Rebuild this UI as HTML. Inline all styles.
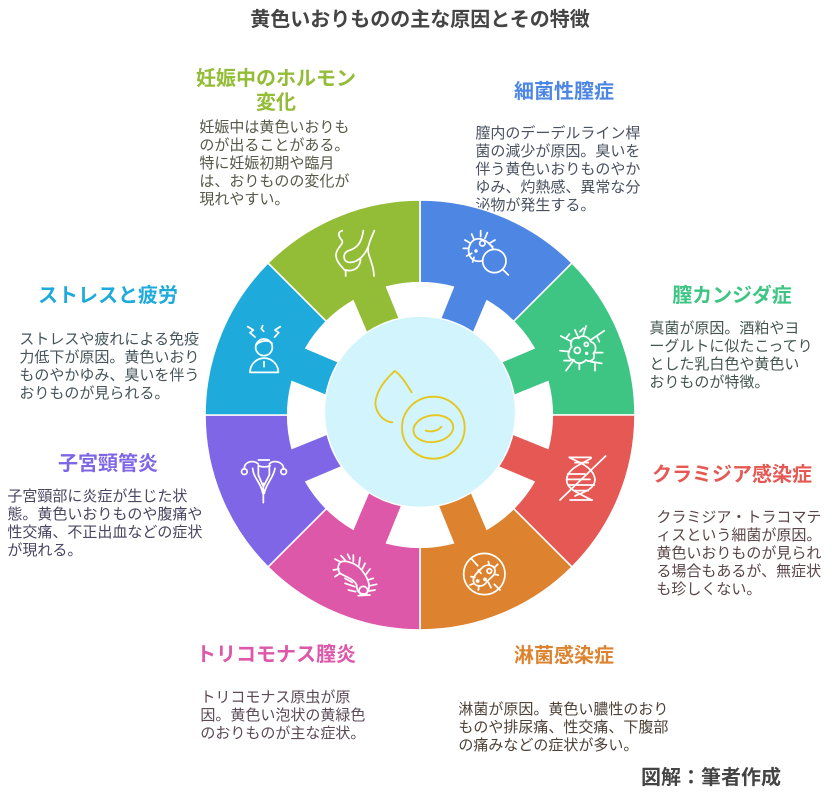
<!DOCTYPE html>
<html lang="ja"><head><meta charset="utf-8"><title>黄色いおりものの主な原因とその特徴</title>
<style>
html,body{margin:0;padding:0;background:#fff}
#p{position:relative;width:840px;height:798px;overflow:hidden;background:#fff;font-family:"Liberation Sans","Noto Sans CJK JP",sans-serif}
#p div{position:absolute;white-space:nowrap}
.h{font-size:20px;font-weight:700;line-height:24px;text-align:center;width:240px}
.b{font-size:15px;line-height:18.1px;margin-left:-.6px}
svg{position:absolute;left:0;top:0}
</style></head><body><div id="p">
<div style="left:170px;top:8px;width:500px;text-align:center;font-size:20px;line-height:24px;font-weight:700;color:#444">黄色いおりものの主な原因とその特徴</div>
<div class="h" style="left:156px;top:67px;color:#93BC37">妊娠中のホルモン<br>変化</div>
<div class="b" style="left:200px;top:119px;color:#565848">妊娠中は黄色いおりも<br>のが出ることがある。<br>特に妊娠初期や臨月<br>は、おりものの変化が<br>現れやすい。</div>
<div class="h" style="left:444px;top:80px;color:#4E86E4">細菌性膣症</div>
<div class="b" style="left:476px;top:125px;color:#4a5260">膣内のデーデルライン桿<br>菌の減少が原因。臭いを<br>伴う黄色いおりものやか<br>ゆみ、灼熱感、異常な分<br>泌物が発生する。</div>
<div class="h" style="left:612px;top:284px;color:#3EC583">膣カンジダ症</div>
<div class="b" style="left:650px;top:320px;color:#445550">真菌が原因。酒粕やヨ<br>ーグルトに似たこってり<br>とした乳白色や黄色い<br>おりものが特徴。</div>
<div class="h" style="left:612px;top:463px;color:#E55853">クラミジア感染症</div>
<div class="b" style="left:657px;top:509px;color:#5a4646">クラミジア・トラコマテ<br>ィスという細菌が原因。<br>黄色いおりものが見られ<br>る場合もあるが、無症状<br>も珍しくない。</div>
<div class="h" style="left:444px;top:644px;color:#DD832F">淋菌感染症</div>
<div class="b" style="left:459px;top:701px;color:#4d4238">淋菌が原因。黄色い膿性のおり<br>ものや排尿痛、性交痛、下腹部<br>の痛みなどの症状が多い。</div>
<div class="h" style="left:156px;top:643px;color:#DD58A8">トリコモナス膣炎</div>
<div class="b" style="left:201px;top:689px;color:#5a4a56">トリコモナス原虫が原<br>因。黄色い泡状の黄緑色<br>のおりものが主な症状。</div>
<div class="h" style="left:-12px;top:452px;color:#7E66E6">子宮頸管炎</div>
<div class="b" style="left:8px;top:488px;color:#4a4560">子宮頸部に炎症が生じた状<br>態。黄色いおりものや腹痛や<br>性交痛、不正出血などの症状<br>が現れる。</div>
<div class="h" style="left:-12px;top:284px;color:#1EABDB">ストレスと疲労</div>
<div class="b" style="left:20px;top:331px;color:#46545a">ストレスや疲れによる免疫<br>力低下が原因。黄色いおり<br>ものやかゆみ、臭いを伴う<br>おりものが見られる。</div>
<div style="left:641px;top:766px;font-size:20px;line-height:24px;font-weight:700;color:#444">図解：筆者作成</div>

<svg width="840" height="798" viewBox="0 0 840 798">
<defs>
<path id="s" d="M0,0L0,-215A215,215 0 0 1 152.03,-152.03Z" stroke="#fff" stroke-width="1.6"/>
<path id="n" d="M-34.4,-128.5A133,133 0 0 1 34.4,-128.5L18.4,-89L-18.4,-89Z" fill="#fff"/>
</defs>
<g transform="translate(420,415)">
<use href="#s" fill="#4E86E4"/>
<use href="#s" fill="#3EC583" transform="rotate(45)"/>
<use href="#s" fill="#E55853" transform="rotate(90)"/>
<use href="#s" fill="#DD832F" transform="rotate(135)"/>
<use href="#s" fill="#DD58A8" transform="rotate(180)"/>
<use href="#s" fill="#7E66E6" transform="rotate(225)"/>
<use href="#s" fill="#1EABDB" transform="rotate(270)"/>
<use href="#s" fill="#93BC37" transform="rotate(315)"/>
<use href="#n"/><use href="#n" transform="rotate(45)"/><use href="#n" transform="rotate(90)"/><use href="#n" transform="rotate(135)"/>
<use href="#n" transform="rotate(180)"/><use href="#n" transform="rotate(225)"/><use href="#n" transform="rotate(270)"/><use href="#n" transform="rotate(315)"/>
<circle cy="-3.2" r="95.6" fill="#D1F4FD" stroke="#fff" stroke-width="1.4"/>
</g>
<g fill="none" stroke-linecap="round" stroke-linejoin="round">
<!-- centre -->
<g transform="translate(370,360) scale(.33333)" stroke="#E6C619" stroke-width="5.5">
<path d="M125,97C105,65 90,42 74,33C50,55 18,90 16,130C18,160 40,185 67,187"/>
<ellipse cx="190" cy="203" rx="94" ry="93"/>
<ellipse cx="190" cy="206" rx="60" ry="40" transform="rotate(-8 190 206)"/>
<path d="M167,212C185,218 205,212 214,200"/>
</g>
<g transform="translate(200,190) scale(.33333)" stroke="#fff" stroke-width="5.2">
<!-- lime -->
<path d="M427,122C415,125 412,135 425,150C435,162 408,172 408,195C408,215 425,230 437,243V258"/>
<path d="M490,122C485,160 470,175 445,182C428,190 428,212 445,217C475,220 500,190 508,160C512,145 518,135 523,122"/>
<path d="M505,172C500,195 522,220 522,258M437,240C455,245 478,240 482,208"/>
<!-- blue -->
<path d="M880,178C868,152 830,132 812,160C795,190 815,222 848,212"/>
<circle cx="883" cy="213" r="35"/><path d="M908,238L925,255"/>
<circle cx="847" cy="160" r="8"/><circle cx="828" cy="183" r="2.5"/>
<path d="M842,122V140M815,132L822,148M795,150L812,160M790,175H806M800,198L815,190M818,216L822,202M862,128L855,145M885,150L868,160M878,170L868,162"/>
<!-- green -->
<path d="M1115,470C1105,450 1125,440 1135,445C1150,430 1170,445 1172,455C1190,460 1190,480 1180,490C1190,505 1170,520 1158,510C1145,525 1125,520 1122,510C1105,510 1098,490 1115,470Z"/>
<circle cx="1132" cy="481" r="9"/><circle cx="1159" cy="463" r="6"/><circle cx="1160" cy="490" r="2.5"/>
<path d="M1115,455L1082,438M1098,445L1108,432M1135,442L1125,420M1150,435L1158,408M1140,425L1150,415M1172,450L1213,422M1190,438L1198,455M1185,488H1208M1172,515L1205,520M1185,518V542M1138,520V538M1120,512L1098,542M1112,512H1092M1108,485L1080,482"/>
<!-- cyan -->
<circle cx="192" cy="472" r="25"/><path d="M168,465C180,452 205,448 216,460"/>
<path d="M150,547A42,42 0 0 1 235,547Z"/><path d="M192,515V530"/>
<path d="M143,410L160,420L150,428L165,441M188,407L184,416L191,424M241,410L225,420L236,428L224,441"/>
</g>
<!-- purple -->
<g transform="translate(230,450) scale(.33333)" stroke="#fff" stroke-width="5.2">
<path d="M43,56C42,35 70,28 85,42M161,56C160,35 130,28 118,42M85,30H118M85,47C95,52 110,52 120,47"/>
<circle cx="43" cy="65" r="8.5"/><circle cx="161" cy="65" r="8.5"/>
<path d="M68,55C70,85 95,100 98,130M135,55C130,85 108,100 103,130M85,50V75L100,110L118,75V50M100,100V158"/>
</g>
<!-- red -->
<g transform="translate(555,450) scale(.33333)" stroke="#fff" stroke-width="5.2">
<path d="M15,150L152,18"/>
<path d="M43,22C65,35 118,50 120,90C118,120 80,128 60,138M108,25C85,40 35,55 35,90C35,115 60,125 110,150"/>
<path d="M43,22H108M60,38H100M38,72H90M35,88H105M40,105H118M58,122H100M45,150H112"/>
</g>
<!-- pink -->
<g transform="translate(325,545) scale(.33333)" stroke="#fff" stroke-width="5.2">
<path d="M42,58C45,40 90,50 110,75C130,100 140,125 125,145C110,150 95,145 95,120C85,100 60,95 45,85C38,75 38,65 42,58Z"/>
<circle cx="115" cy="137" r="13"/>
<path d="M30,42L45,50M48,32L60,45M68,28L75,42M85,30V50M105,38L102,60M120,55L112,72M135,72L123,88M145,100L128,105M155,118L135,122M150,135L133,138M135,150L100,152M60,100L82,112M60,115L90,125M70,135L92,140M25,75L42,72M30,95L45,85"/>
</g>
<!-- orange -->
<g transform="translate(455,545) scale(.33333)" stroke="#fff" stroke-width="5.2">
<circle cx="88" cy="87" r="62"/>
<path d="M48,40L68,62M118,118L135,135"/>
<path d="M85,65C100,55 120,62 120,78C120,95 100,100 92,115C80,128 55,125 55,105C55,90 75,75 85,65Z"/>
<circle cx="103" cy="78" r="7"/><circle cx="68" cy="108" r="3"/><circle cx="90" cy="103" r="3"/>
<path d="M100,50L103,60M128,58L118,68M130,90L118,88M108,128L100,112M70,135L72,122M45,120L58,115M48,95L60,97M70,75L78,85"/>
</g>
</g>
</svg>
</div></body></html>
